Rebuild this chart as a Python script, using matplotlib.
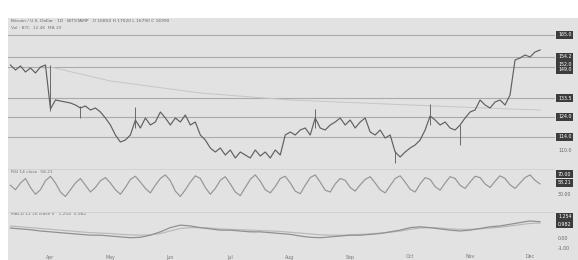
import numpy as np
import matplotlib
matplotlib.use("Agg")
import matplotlib.pyplot as plt
from matplotlib.patches import Rectangle

# ---- data ----
price = [150, 147.5, 149.5, 146.5, 148.5, 146, 149, 150, 128, 132.5, 132, 131.5, 131, 130,
         128.5, 129.5, 127.5, 128.5, 126.5, 123.5, 120, 115, 111.5, 112.5, 115, 122.5, 118.5,
         123.5, 120, 121.5, 126.5, 123.5, 120, 123.5, 121.5, 125, 120, 121.5, 115, 112.5, 108.5,
         106.5, 108.5, 105, 107.5, 103.5, 106.5, 105, 103.5, 107.5, 104.5, 106.5, 103.5, 107.5,
         105, 115, 116.5, 115, 117.5, 118.5, 115, 123.5, 118.5, 117.5, 120, 121.5, 123.5, 120,
         122.5, 118.5, 121.5, 123.5, 116.5, 115, 117.5, 113.5, 115, 106.5, 104, 106.5, 108.5,
         110, 112.5, 117.5, 124.5, 122.5, 120, 121.5, 118.5, 117.5, 120, 123.5, 126.5, 127.5,
         132.5, 130, 128.5, 131.5, 132.5, 130, 135, 152.5, 153.5, 155, 154, 156.5, 157.5]
wick_idx = [8, 14, 25, 61, 77, 84, 90]
wick_lo = [127, 123.5, 118.5, 118.5, 101, 120, 110]
wick_hi = [150, 129.5, 129, 128, 107, 130.5, 120]
ma_idx = [8, 20, 38, 56, 80, 100, 106]
ma_vals = [149, 142, 136, 132.5, 130, 128, 127.5]
levels = [165, 154, 149, 133.5, 124, 114]

osc = [55, 45, 60, 70, 50, 35, 45, 65, 75, 60, 40, 30, 45, 60, 70, 55, 40, 50, 65, 72, 60,
       45, 35, 50, 68, 75, 62, 48, 38, 55, 70, 78, 65, 42, 30, 45, 62, 76, 70, 50, 35, 48,
       66, 74, 58, 40, 32, 50, 68, 78, 64, 45, 38, 52, 70, 75, 60, 42, 36, 55, 72, 78, 62,
       44, 40, 58, 70, 66, 50, 42, 56, 68, 74, 60, 45, 38, 54, 70, 76, 62, 46, 40, 58, 72,
       68, 52, 44, 60, 74, 70, 55, 48, 62, 75, 72, 58, 50, 64, 76, 70, 56, 48, 60, 72, 78, 66, 58]

macd = [57, 55, 53, 50, 48, 46, 44, 42, 40, 40, 38, 36, 34, 35, 40, 48, 58, 64, 62, 58, 55,
        52, 52, 50, 48, 48, 46, 44, 42, 38, 35, 34, 36, 38, 40, 40, 42, 44, 48, 52, 58, 60,
        58, 55, 52, 50, 52, 56, 60, 62, 66, 70, 74, 72]
signal = [62, 60, 58, 56, 54, 52, 50, 48, 46, 45, 44, 42, 41, 40, 41, 44, 50, 56, 58, 58, 57,
          55, 54, 53, 52, 51, 50, 49, 47, 45, 43, 41, 40, 40, 41, 42, 43, 45, 47, 50, 54, 57,
          58, 57, 55, 54, 54, 55, 57, 59, 62, 65, 68, 69]

right_labels = [(35, "165.0", True), (57, "154.2", True), (64, "152.0", True), (70, "149.0", True),
                (98, "133.5", True), (117, "124.0", True), (137, "114.0", True), (150, "110.0", False),
                (174, "70.00", True), (183, "58.21", True), (194, "30.00", False),
                (217, "1.254", True), (224, "0.982", True), (238, "0.00", False), (248, "-1.00", False)]
x_labels = ["Apr", "May", "Jun", "Jul", "Aug", "Sep", "Oct", "Nov", "Dec"]

W, H = 578, 260
fig = plt.figure(figsize=(W / 100, H / 100), dpi=100)
fig.patch.set_facecolor("white")

def fy(y):
    return 1 - y / H

def fx(x):
    return x / W

bg = "#e2e2e2"
fig.patches.append(Rectangle((fx(8), 0), 1 - fx(8), fy(18), transform=fig.transFigure,
                             facecolor=bg, edgecolor="none", zorder=-10))

L, R = 8, 555
def panel(y0, y1):
    ax = fig.add_axes([fx(L), fy(y1), fx(R - L), (y1 - y0) / H])
    ax.set_facecolor("none")
    ax.set_zorder(5)
    for s in ax.spines.values():
        s.set_visible(False)
    ax.set_xticks([])
    ax.set_yticks([])
    return ax

n = len(price)
x = np.arange(n)

ax1 = panel(18, 165)
for lv in levels:
    ax1.axhline(lv, color="#ababab", lw=0.8, zorder=1)
ax1.plot(ma_idx, ma_vals, color="#c6c6c6", lw=0.7, zorder=2)
ax1.vlines(wick_idx, wick_lo, wick_hi, color="#6a6a6a", lw=0.7, zorder=3)
ax1.plot(x, price, color="#606060", lw=0.85, zorder=3)
ax1.set_xlim(-0.5, n + 2)
ax1.set_ylim(100, 173.5)
ax1.axhline(100.2, color="#cfcfcf", lw=0.8)

ax2 = panel(165, 210)
xo = np.linspace(0, n - 1, len(osc))
ax2.plot(xo, osc, color="#959595", lw=0.85)
ax2.axhline(92, color="#d0d0d0", lw=0.6)
ax2.set_xlim(-0.5, n + 2)
ax2.set_ylim(0, 100)

ax3 = panel(210, 252)
xm = np.linspace(0, n - 1, len(macd))
ax3.plot(xm, signal, color="#bababa", lw=0.9)
ax3.plot(xm, macd, color="#909090", lw=0.9)
ax3.axhline(95, color="#d0d0d0", lw=0.6)
ax3.set_xlim(-0.5, n + 2)
ax3.set_ylim(0, 100)

# legend texts
fig.text(fx(11), fy(21), "Bitcoin / U.S. Dollar · 1D · BITSTAMP   O 16850 H 17020 L 16790 C 16990",
         fontsize=3.2, color="#666666", va="center")
fig.text(fx(11), fy(28), "Vol · BTC  12.4K  MA 20", fontsize=3.2, color="#777777", va="center")
fig.text(fx(11), fy(172), "RSI 14 close  58.21", fontsize=3.2, color="#777777", va="center")
fig.text(fx(11), fy(214), "MACD 12 26 close 9   1.254  0.982", fontsize=3.2, color="#777777", va="center")

for y, t, boxed in right_labels:
    if boxed:
        fig.text(fx(558), fy(y), t, fontsize=3.4, color="white", va="center", ha="left",
                 bbox=dict(boxstyle="square,pad=0.35", facecolor="#3c3c3c", edgecolor="none"))
    else:
        fig.text(fx(558), fy(y), t, fontsize=3.4, color="#666666", va="center", ha="left")

for i, t in enumerate(x_labels):
    fig.text(fx(50 + i * 60), fy(257), t, fontsize=3.4, color="#777777", va="center", ha="center")

fig.savefig("out.png", dpi=100)
